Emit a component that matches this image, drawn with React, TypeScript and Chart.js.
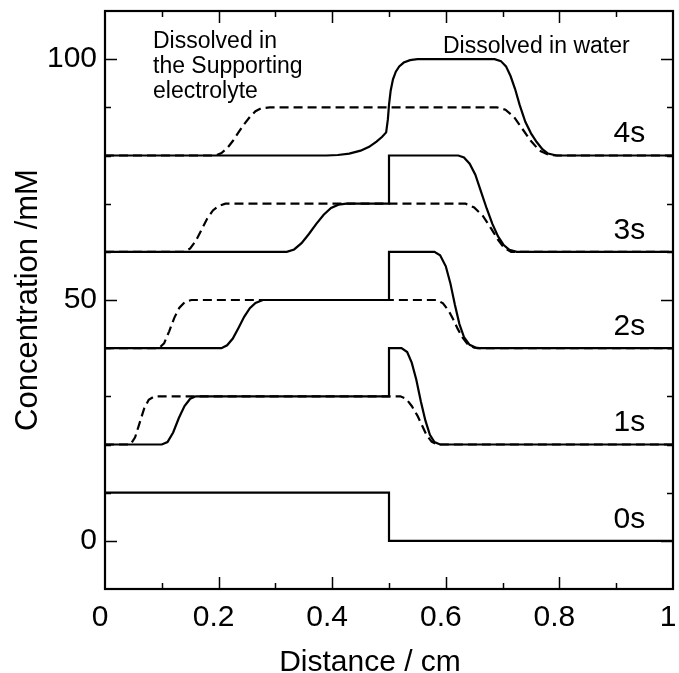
import React, { useEffect, useRef } from "react";
import { Chart, registerables } from "chart.js";

Chart.register(...registerables);

const FONT = '"Liberation Sans", Arial, Helvetica, sans-serif';

// Axis titles and annotation texts
const xTitle = "Distance / cm";
const yTitle = "Concentration /mM";
const leftNote = ["Dissolved in", "the Supporting", "electrolyte"];
const rightNote = "Dissolved in water";

// Time labels and the baseline each profile sits on
const timeLabels = ["0s", "1s", "2s", "3s", "4s"];
const timeBaselines = [0, 20, 40, 60, 80];

// Concentration profiles: [distance (cm), concentration (mM)]
const solid0s: [number, number][] = [[0, 10], [0.5, 10], [0.5, 0], [1, 0]];

const solid1s: [number, number][] = [
  [0, 20], [0.1, 20], [0.11, 20.5], [0.12, 22.5], [0.13, 25.5], [0.14, 28], [0.15, 29.5], [0.16, 30],
  [0.5, 30], [0.5, 40], [0.522, 40], [0.532, 39.2], [0.54, 37], [0.548, 33.5], [0.556, 29],
  [0.564, 25], [0.572, 22], [0.58, 20.5], [0.59, 20], [1, 20],
];
const dashed1s: [number, number][] = [
  [0, 20], [0.045, 20], [0.053, 21.5], [0.061, 24.5], [0.069, 27.5], [0.077, 29.3], [0.087, 30],
  [0.52, 30], [0.53, 29.5], [0.54, 28], [0.55, 26], [0.558, 24], [0.566, 22], [0.575, 20.6],
  [0.585, 20], [1, 20],
];

const solid2s: [number, number][] = [
  [0, 40], [0.205, 40], [0.215, 40.6], [0.225, 42], [0.235, 44.2], [0.245, 46.5], [0.255, 48.3],
  [0.265, 49.4], [0.278, 50], [0.5, 50], [0.5, 60], [0.58, 60], [0.59, 59.3], [0.6, 57],
  [0.608, 53.5], [0.616, 49], [0.624, 45], [0.632, 42.3], [0.642, 40.7], [0.655, 40], [1, 40],
];
const dashed2s: [number, number][] = [
  [0, 40], [0.095, 40], [0.104, 41], [0.113, 43.5], [0.122, 46.3], [0.131, 48.4], [0.141, 49.6],
  [0.152, 50], [0.585, 50], [0.595, 49.3], [0.605, 47.8], [0.613, 46], [0.621, 44], [0.629, 42.3],
  [0.638, 40.9], [0.65, 40.1], [0.66, 40], [1, 40],
];

const solid3s: [number, number][] = [
  [0, 60], [0.32, 60], [0.333, 60.5], [0.346, 61.8], [0.359, 63.7], [0.372, 65.8], [0.385, 67.7],
  [0.398, 69.1], [0.411, 69.8], [0.425, 70], [0.5, 70], [0.5, 80], [0.622, 80], [0.632, 79.6],
  [0.642, 78.3], [0.652, 76], [0.662, 72.5], [0.672, 69], [0.682, 65.8], [0.692, 63.2],
  [0.702, 61.4], [0.712, 60.4], [0.725, 60], [1, 60],
];
const dashed3s: [number, number][] = [
  [0, 60], [0.14, 60], [0.15, 60.7], [0.16, 62.3], [0.17, 64.6], [0.18, 66.9], [0.19, 68.6],
  [0.2, 69.5], [0.212, 70], [0.635, 70], [0.65, 69.2], [0.665, 67.5], [0.68, 64.8], [0.692, 62.5],
  [0.703, 60.8], [0.715, 60], [1, 60],
];

const solid4s: [number, number][] = [
  [0, 80], [0.39, 80], [0.41, 80.1], [0.43, 80.4], [0.45, 81], [0.465, 81.8], [0.478, 82.9],
  [0.488, 83.9], [0.495, 84.8], [0.498, 87.5], [0.5, 90.5], [0.503, 93.5], [0.507, 95.8],
  [0.512, 97.4], [0.518, 98.5], [0.526, 99.3], [0.537, 99.8], [0.55, 100],
  [0.686, 100], [0.697, 99.6], [0.706, 98.5], [0.714, 96.5], [0.722, 93.8], [0.73, 90.5],
  [0.74, 87], [0.75, 84.6], [0.76, 82.8], [0.77, 81.3], [0.78, 80.4], [0.795, 80], [1, 80],
];
const dashed4s: [number, number][] = [
  [0, 80], [0.195, 80], [0.205, 80.5], [0.215, 81.5], [0.225, 83], [0.235, 84.8], [0.245, 86.5],
  [0.255, 88], [0.265, 89.2], [0.275, 89.8], [0.29, 90], [0.69, 90], [0.705, 89.5], [0.72, 88],
  [0.735, 85.5], [0.75, 83], [0.765, 81], [0.78, 80.2], [0.795, 80], [1, 80],
];

const solidSeries = [solid0s, solid1s, solid2s, solid3s, solid4s];
const dashedSeries = [dashed1s, dashed2s, dashed3s, dashed4s];

const isMajorX = (v: number) => Math.abs(v * 5 - Math.round(v * 5)) < 1e-6;
const isMajorY = (v: number) => Math.abs(v % 50) < 1e-6;

const overlayPlugin = {
  id: "overlay",
  afterDraw(chart: any) {
    const { ctx, chartArea: a, scales } = chart;
    const xs = scales.x;
    const ys = scales.y;
    ctx.save();
    ctx.strokeStyle = "#000";
    ctx.fillStyle = "#000";

    // inward tick marks on all four sides
    ctx.lineWidth = 1.5;
    ctx.beginPath();
    xs.ticks.forEach((t: any) => {
      const v = t.value;
      if (v <= xs.min + 1e-9 || v >= xs.max - 1e-9) return;
      const len = isMajorX(v) ? 12 : 6;
      const px = Math.round(xs.getPixelForValue(v)) + 0.5;
      ctx.moveTo(px, a.bottom);
      ctx.lineTo(px, a.bottom - len);
      ctx.moveTo(px, a.top);
      ctx.lineTo(px, a.top + len);
    });
    ys.ticks.forEach((t: any) => {
      const v = t.value;
      if (v <= ys.min + 1e-9 || v >= ys.max - 1e-9) return;
      const len = isMajorY(v) ? 12 : 6;
      const py = Math.round(ys.getPixelForValue(v)) + 0.5;
      ctx.moveTo(a.left, py);
      ctx.lineTo(a.left + len, py);
      ctx.moveTo(a.right, py);
      ctx.lineTo(a.right - len, py);
    });
    ctx.stroke();

    // frame
    ctx.lineWidth = 2.2;
    ctx.strokeRect(a.left, a.top, a.right - a.left, a.bottom - a.top);

    // axis titles
    ctx.font = `30px ${FONT}`;
    ctx.textAlign = "center";
    ctx.textBaseline = "alphabetic";
    ctx.fillText(xTitle, a.left + 265, chart.height - 2);
    ctx.save();
    ctx.translate(37, (a.top + a.bottom) / 2);
    ctx.rotate(-Math.PI / 2);
    ctx.font = `31px ${FONT}`;
    ctx.fillText(yTitle, 0, 0);
    ctx.restore();

    // time labels
    ctx.font = `30px ${FONT}`;
    ctx.textAlign = "right";
    timeLabels.forEach((lab, i) => {
      ctx.fillText(lab, xs.getPixelForValue(0.951), ys.getPixelForValue(timeBaselines[i] + 2.7));
    });

    // notes
    ctx.font = `23px ${FONT}`;
    ctx.textAlign = "left";
    leftNote.forEach((line, i) => {
      ctx.fillText(line, a.left + 48, a.top + 37 + i * 25);
    });
    ctx.fillText(rightNote, a.left + 338, a.top + 42);
    ctx.restore();
  },
};

export default function App() {
  const ref = useRef<HTMLCanvasElement | null>(null);

  useEffect(() => {
    if (!ref.current) return;
    const toXY = (s: [number, number][]) => s.map(([x, y]) => ({ x, y }));
    const datasets: any[] = [];
    dashedSeries.forEach((s, i) => {
      datasets.push({
        label: `dashed ${i + 1}s`,
        data: toXY(s),
        borderColor: "#000",
        borderWidth: 2.2,
        borderDash: [9, 5],
        pointRadius: 0,
        tension: 0,
        fill: false,
      });
    });
    solidSeries.forEach((s, i) => {
      datasets.push({
        label: `solid ${i}s`,
        data: toXY(s),
        borderColor: "#000",
        borderWidth: 2.2,
        pointRadius: 0,
        tension: 0,
        fill: false,
      });
    });

    const chart = new Chart(ref.current, {
      type: "line",
      data: { datasets },
      options: {
        animation: false,
        responsive: false,
        devicePixelRatio: 1,
        layout: { padding: { top: 11, right: 6, left: 0, bottom: 0 } },
        plugins: { legend: { display: false }, tooltip: { enabled: false } },
        scales: {
          x: {
            type: "linear",
            min: 0,
            max: 1,
            grid: { display: false, drawTicks: false },
            border: { display: false },
            afterFit: (s: any) => {
              s.height = 84;
              s.paddingLeft = 0;
              s.paddingRight = 0;
            },
            ticks: {
              stepSize: 0.1,
              autoSkip: false,
              maxRotation: 0,
              minRotation: 0,
              labelOffset: -5,
              padding: 11,
              color: "#000",
              font: { size: 30, family: FONT },
              callback: (v: any) => {
                const k = Math.round(Number(v) * 10);
                return k % 2 === 0 ? String(k / 10) : "";
              },
            },
          },
          y: {
            type: "linear",
            min: -10,
            max: 110,
            grid: { display: false, drawTicks: false },
            border: { display: false },
            afterFit: (s: any) => {
              s.width = 105;
              s.paddingTop = 0;
              s.paddingBottom = 0;
            },
            ticks: {
              stepSize: 10,
              autoSkip: false,
              padding: 8,
              color: "#000",
              font: { size: 30, family: FONT },
              callback: (v: any) => {
                const n = Number(v);
                return n >= 0 && isMajorY(n) ? String(n) : "";
              },
            },
          },
        },
      },
      plugins: [overlayPlugin],
    });
    return () => chart.destroy();
  }, []);

  return (
    <div style={{ position: "fixed", left: 0, top: 0, width: 679, height: 673, background: "#fff" }}>
      <canvas ref={ref} width={679} height={673} style={{ display: "block" }} />
    </div>
  );
}
